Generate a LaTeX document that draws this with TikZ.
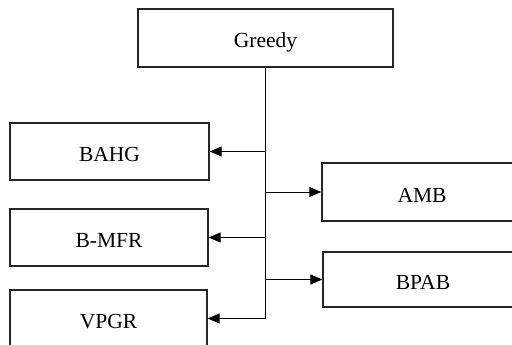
\documentclass[tikz,border=0pt]{standalone}
\usepackage{fontspec}
\setmainfont{Liberation Serif}
\usetikzlibrary{arrows.meta}
\begin{document}
\begin{tikzpicture}[x=1pt,y=-1pt,
  box/.style={draw=black!85, line width=1.3pt, inner sep=0pt,
    minimum width=#1, minimum height=57pt,
    font=\fontsize{21.5}{24}\selectfont, text height=14pt, text depth=0pt},
  link/.style={draw=black, line width=1pt},
  arr/.style={link, -{Triangle[length=12pt,width=10pt]}}]
  \useasboundingbox (0,0) rectangle (512,345);
  \clip (0,0) rectangle (512,345);

  % Root and child boxes
  \node[box=255pt, minimum height=58pt] (greedy) at (265.5,38) {\raisebox{-3pt}{Greedy}};
  \node[box=199pt] (bahg) at (109.5,151.5) {\raisebox{-3pt}{BAHG}};
  \node[box=198pt] (bmfr) at (109,237.5) {\raisebox{-3pt}{B-MFR}};
  \node[box=197pt] (vpgr) at (108.5,318.5) {\raisebox{-3pt}{VPGR}};
  \node[box=200pt, minimum height=58pt] (amb) at (422,192) {\raisebox{-3pt}{AMB}};
  \node[box=200pt, minimum height=55pt] (bpab) at (423,279.5) {\raisebox{-3pt}{BPAB}};

  % Trunk running down from the root
  \coordinate (trunk) at (greedy.south);
  \draw[link] (trunk) -- (trunk |- vpgr.east);

  % Branches to each child
  \draw[arr] (trunk |- bahg.east) -- (bahg.east);
  \draw[arr] (trunk |- amb.west) -- (amb.west);
  \draw[arr] (trunk |- bmfr.east) -- (bmfr.east);
  \draw[arr] (trunk |- bpab.west) -- (bpab.west);
  \draw[arr] (trunk |- vpgr.east) -- (vpgr.east);
\end{tikzpicture}
\end{document}
